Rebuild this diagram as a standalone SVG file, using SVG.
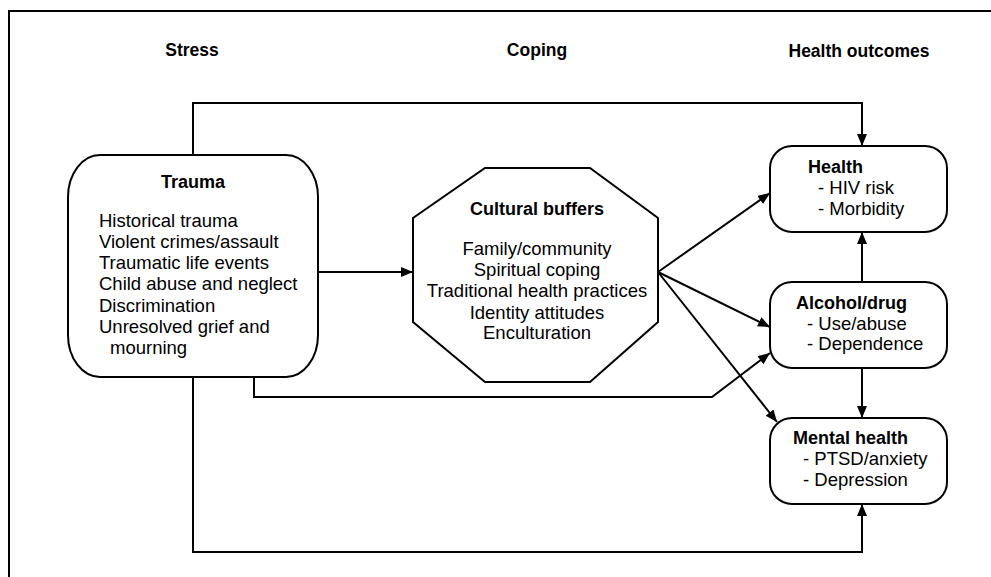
<svg xmlns="http://www.w3.org/2000/svg" width="991" height="577" viewBox="0 0 991 577">
<style>
  text { font-family: "Liberation Sans", Arial, sans-serif; fill: #000; }
  .hd { font-size: 17.5px; font-weight: bold; text-anchor: middle; }
  .b { font-size: 18px; font-weight: bold; }
  .t { font-size: 18.5px; }
  .c { text-anchor: middle; }
  .shape { fill: #fff; stroke: #000; stroke-width: 2; }
  .con { fill: none; stroke: #000; stroke-width: 2; }
</style>
<defs>
  <marker id="arr" markerUnits="userSpaceOnUse" markerWidth="13" markerHeight="11" refX="12" refY="5" orient="auto">
    <path d="M0,0 L12,5 L0,10 z" fill="#000"/>
  </marker>
</defs>
<rect width="991" height="577" fill="#fff"/>
<path d="M9,577 V11 H991" fill="none" stroke="#000" stroke-width="2"/>

<g id="headers">
  <text class="hd" x="192" y="56">Stress</text>
  <text class="hd" x="537" y="56">Coping</text>
  <text class="hd" x="859" y="57">Health outcomes</text>
</g>

<g id="connectors">
  <path class="con" d="M193,155 V103 H862 V146" marker-end="url(#arr)"/>
  <path class="con" d="M193,377 V552 H862 V504" marker-end="url(#arr)"/>
  <path class="con" d="M254,377 V397 H712 L770,353" marker-end="url(#arr)"/>
  <path class="con" d="M318,272 H413" marker-end="url(#arr)"/>
  <path class="con" d="M658,272 L770,193" marker-end="url(#arr)"/>
  <path class="con" d="M658,272 L770,327" marker-end="url(#arr)"/>
  <path class="con" d="M658,272 L777,422" marker-end="url(#arr)"/>
  <path class="con" d="M862,282 V232" marker-end="url(#arr)"/>
  <path class="con" d="M862,368 V418" marker-end="url(#arr)"/>
</g>

<g id="trauma">
  <rect class="shape" x="68" y="155" width="250" height="222" rx="32" ry="42"/>
  <text class="b c" x="193" y="188">Trauma</text>
  <text class="t" x="99" y="227">Historical trauma</text>
  <text class="t" x="99" y="248">Violent crimes/assault</text>
  <text class="t" x="99" y="269">Traumatic life events</text>
  <text class="t" x="99" y="290">Child abuse and neglect</text>
  <text class="t" x="99" y="312">Discrimination</text>
  <text class="t" x="99" y="333">Unresolved grief and</text>
  <text class="t" x="110" y="354">mourning</text>
</g>

<g id="cultural-buffers">
  <polygon class="shape" points="485,168 590,168 658,218 658,322 590,382 485,382 413,322 413,218"/>
  <text class="b c" x="537" y="215">Cultural buffers</text>
  <text class="t c" x="537" y="255">Family/community</text>
  <text class="t c" x="537" y="276">Spiritual coping</text>
  <text class="t c" x="537" y="297">Traditional health practices</text>
  <text class="t c" x="537" y="319">Identity attitudes</text>
  <text class="t c" x="537" y="339">Enculturation</text>
</g>

<g id="health">
  <rect class="shape" x="770" y="146" width="177" height="86" rx="22"/>
  <text class="b" x="808" y="173">Health</text>
  <text class="t" x="818" y="194">- HIV risk</text>
  <text class="t" x="818" y="215">- Morbidity</text>
</g>

<g id="alcohol-drug">
  <rect class="shape" x="770" y="282" width="177" height="86" rx="22"/>
  <text class="b" x="796" y="309">Alcohol/drug</text>
  <text class="t" x="807" y="330">- Use/abuse</text>
  <text class="t" x="807" y="350">- Dependence</text>
</g>

<g id="mental-health">
  <rect class="shape" x="770" y="418" width="177" height="86" rx="22"/>
  <text class="b" x="793" y="444">Mental health</text>
  <text class="t" x="803" y="465">- PTSD/anxiety</text>
  <text class="t" x="803" y="486">- Depression</text>
</g>
</svg>
